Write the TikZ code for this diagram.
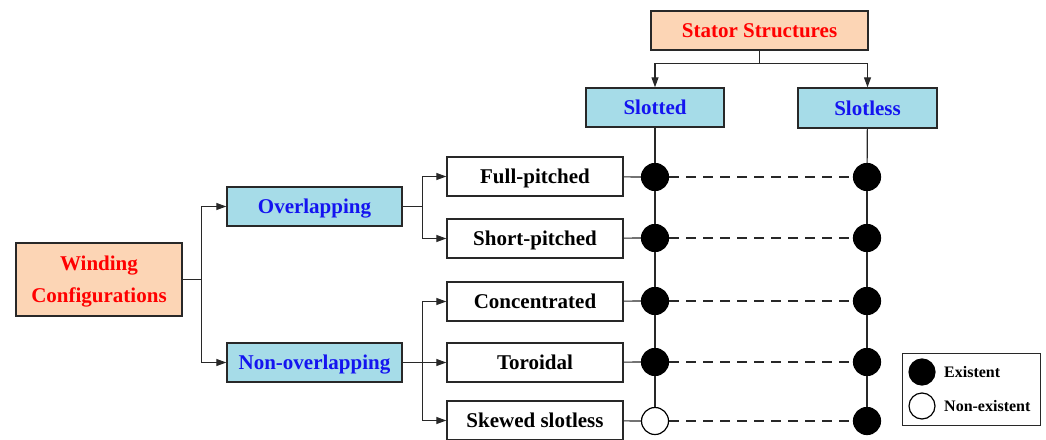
\documentclass[tikz,border=0pt]{standalone}
\usepackage{fontspec}
\setmainfont{Liberation Serif}
\usetikzlibrary{arrows.meta}
\definecolor{peach}{RGB}{252,213,181}
\definecolor{skyb}{RGB}{166,220,232}
\definecolor{txtred}{RGB}{255,0,0}
\definecolor{txtblue}{RGB}{20,20,240}
\definecolor{edge}{RGB}{40,40,40}
\tikzset{
  box/.style={draw=edge, line width=1.4pt, inner sep=0pt, align=center, text height=14.5pt, text depth=0pt, font=\fontsize{21}{32}\selectfont\bfseries},
  rootbox/.style={box, fill=peach, text=txtred},
  catbox/.style={box, fill=skyb, text=txtblue},
  leafbox/.style={box, fill=white, text=black, minimum width=176pt, minimum height=39pt},
  conn/.style={draw=edge, line width=1.2pt},
  arr/.style={conn, -{Triangle[length=10pt,width=7pt]}},
  dot/.style={circle, draw=black, line width=1.2pt, fill=black, minimum size=27pt, inner sep=0pt},
  nodot/.style={dot, fill=white},
  ldot/.style={dot, minimum size=26pt},
  lnodot/.style={nodot, minimum size=26pt},
  ltext/.style={anchor=base west, inner sep=0pt, font=\fontsize{16}{18}\selectfont\bfseries},
  dashline/.style={conn, dash pattern=on 10pt off 7pt}
}
\begin{document}
\begin{tikzpicture}[x=1pt, y=-1pt]
\useasboundingbox (0,0) rectangle (1046,439);
% top
\node[rootbox, minimum width=217pt, minimum height=39pt] (stator) at (759.5,30.5) {Stator Structures};
\node[catbox, minimum width=138pt, minimum height=39pt] (slotted) at (655,107.5) {Slotted};
\node[catbox, minimum width=139pt, minimum height=40pt] (slotless) at (867.5,108) {Slotless};
% left
\node[rootbox, minimum width=166pt, minimum height=73pt, text height=46.5pt] (winding) at (99,279.5) {Winding\\Configurations};
\node[catbox, minimum width=175pt, minimum height=39pt] (over) at (314.5,206.5) {Overlapping};
\node[catbox, minimum width=175pt, minimum height=39pt] (nonover) at (314.5,362.5) {Non-overlapping};
% leaves
\node[leafbox] (fp) at (535,176.5) {Full-pitched};
\node[leafbox] (sp) at (535,238.5) {Short-pitched};
\node[leafbox] (conc) at (535,301.5) {Concentrated};
\node[leafbox] (tor) at (535,362.5) {Toroidal};
\node[leafbox] (skew) at (535,420.5) {Skewed slotless};
% dots
\node[dot] (s1) at (655,177) {};
\node[dot] (s2) at (655,238) {};
\node[dot] (s3) at (655,301) {};
\node[dot] (s4) at (655,362) {};
\node[nodot] (s5) at (655,421) {};
\node[dot] (t1) at (867,177) {};
\node[dot] (t2) at (867,238) {};
\node[dot] (t3) at (867,301) {};
\node[dot] (t4) at (867,362) {};
\node[dot] (t5) at (867,421) {};
% legend
\node[draw=edge, line width=1pt, minimum width=138pt, minimum height=72pt, inner sep=0pt] (legend) at (971,389) {};
\node[ldot] (le) at (922,372) {};
\node[lnodot] (ln) at (922,406) {};
\node[ltext] (lte) at (944,377.5) {Existent};
\node[ltext] (ltn) at (944,411.5) {Non-existent};
% connectors top
\draw[conn] (stator.south) -- ++(0,13) coordinate (sb);
\draw[arr] (sb) -| (slotted.north);
\draw[arr] (sb) -| (slotless.north);
% connectors left
\draw[conn] (winding.east) -- ++(19,0) coordinate (wb);
\draw[arr] (wb) |- (over.west);
\draw[arr] (wb) |- (nonover.west);
\draw[conn] (over.east) -- ++(20,0) coordinate (ob);
\draw[arr] (ob) |- (fp.west);
\draw[arr] (ob) |- (sp.west);
\draw[conn] (nonover.east) -- ++(20,0) coordinate (nb);
\draw[arr] (nb) |- (conc.west);
\draw[arr] (nb) |- (tor.west);
\draw[arr] (nb) |- (skew.west);
% columns
\draw[conn] (slotted) -- (s1);
\draw[conn] (s1) -- (s2);
\draw[conn] (s2) -- (s3);
\draw[conn] (s3) -- (s4);
\draw[conn] (s4) -- (s5);
\draw[conn] (slotless) -- (t1);
\draw[conn] (t1) -- (t2);
\draw[conn] (t2) -- (t3);
\draw[conn] (t3) -- (t4);
\draw[conn] (t4) -- (t5);
% rows
\draw[conn] (fp) -- (s1);
\draw[conn] (sp) -- (s2);
\draw[conn] (conc) -- (s3);
\draw[conn] (tor) -- (s4);
\draw[conn] (skew) -- (s5);
\draw[dashline] (s1) -- (t1);
\draw[dashline] (s2) -- (t2);
\draw[dashline] (s3) -- (t3);
\draw[dashline] (s4) -- (t4);
\draw[dashline] (s5) -- (t5);
\end{tikzpicture}
\end{document}
